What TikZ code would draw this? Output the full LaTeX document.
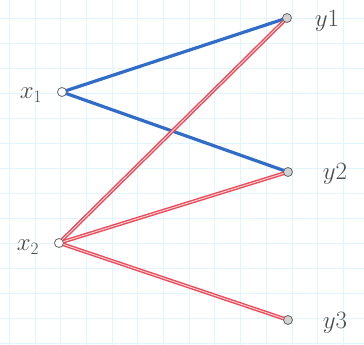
\documentclass[tikz,border=0pt]{standalone}
\usetikzlibrary{positioning,backgrounds}
\begin{document}
\begin{tikzpicture}[x=1pt, y=-1pt,
    vtx/.style={circle, draw=gray!80!black, thick, inner sep=0pt, minimum size=9pt},
    lbl/.style={text=gray!60!black, font=\fontsize{24}{28}\selectfont}]

  \colorlet{gridC}{cyan!12}
  \definecolor{edgeBlue}{RGB}{48,108,200}
  \definecolor{edgeRed}{RGB}{235,72,88}

  \useasboundingbox (0,0) rectangle (364,345);

  % vertices
  \node[vtx, fill=white]   (x1) at (62,92)   {};
  \node[vtx, fill=white]   (x2) at (59,243)  {};
  \node[vtx, fill=gray!35] (y1) at (287,18)  {};
  \node[vtx, fill=gray!35] (y2) at (288,172) {};
  \node[vtx, fill=gray!35] (y3) at (288,320) {};

  % labels
  \node[lbl] at (31,95)   {$x_1$};
  \node[lbl] at (28,247)  {$x_2$};
  \node[lbl] at (327,21)  {$y1$};
  \node[lbl] at (335,174) {$y2$};
  \node[lbl] at (335,323) {$y3$};

  \begin{scope}[on background layer]
    % graph paper
    \foreach \i in {0,...,13}
      \draw[gridC, thin] ({9+25.7*\i},0) -- ({9+25.7*\i},345);
    \foreach \j in {0,...,13}
      \draw[gridC, thin] (0,{18+25*\j}) -- (364,{18+25*\j});

    % edges from x1
    \draw[edgeBlue, line width=3.2pt] (x1.center) -- (y1.center);
    \draw[edgeBlue, line width=3.2pt] (x1.center) -- (y2.center);

    % edges from x2
    \foreach \t in {y1,y2,y3}
      \draw[edgeRed, line width=1.4pt, double=white!85!red, double distance=0.9pt]
        (x2.center) -- (\t.center);
  \end{scope}

\end{tikzpicture}
\end{document}
